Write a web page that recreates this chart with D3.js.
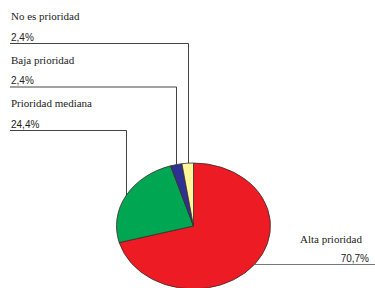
<html>
<head>
    <title>Prioridad</title>
</head>
<body style="margin:0;background:#fff">
    <script src="https://d3js.org/d3.v7.min.js"></script>
    <script>
        var categories = ["Alta prioridad", "Prioridad mediana", "Baja prioridad", "No es prioridad"];
        var values = [70.7, 24.4, 2.4, 2.4];
        var valueLabels = ["70,7%", "24,4%", "2,4%", "2,4%"];
        var colors = ["#ED1C24", "#00A651", "#2E3192", "#FFF799"];

        var width = 375, height = 288;
        var cx = 193.5, cy = 226, rx = 77, ry = 63;
        var serif = "'Liberation Serif', 'Times New Roman', Times, serif";
        var sans = "'Liberation Sans', Arial, sans-serif";
        var svg = d3.select("body").append("svg").attr("width", width).attr("height", height);

        var data = categories.map((c, i) => ({ name: c, value: values[i], label: valueLabels[i], color: colors[i] }));
        var pie = d3.pie().sort(null).value(d => d.value);
        var arcs = pie(data);
        var arc = d3.arc().innerRadius(0).outerRadius(rx);

        // point on the ellipse edge at the middle of a slice
        var edge = a => {
            var m = (a.startAngle + a.endAngle) / 2;
            return [cx + rx * Math.sin(m), cy - ry * Math.cos(m)];
        };

        // leader lines (left side labels stacked from the top)
        var leftY = { "No es prioridad": 43.5, "Baja prioridad": 87, "Prioridad mediana": 130.5 };
        var g = svg.append("g");
        arcs.forEach(a => {
            var p = edge(a);
            if (leftY[a.data.name] !== undefined) {
                var ly = leftY[a.data.name];
                g.append("polyline")
                    .attr("points", [[10, ly], [Math.round(p[0]) + 0.5, ly], [Math.round(p[0]) + 0.5, p[1]]].join(" "))
                    .attr("fill", "none").attr("stroke", "#444").attr("stroke-width", 1);
                g.append("text").text(a.data.name)
                    .attr("x", 11).attr("y", ly - 23.5)
                    .style("font-family", serif).style("font-size", "11px").attr("fill", "#222");
                g.append("text").text(a.data.label)
                    .attr("x", 11).attr("y", ly - 3)
                    .style("font-family", sans).style("font-size", "10px").attr("fill", "#222");
            } else {
                var ry2 = Math.round(p[1]) + 0.5;
                g.append("line").attr("x1", p[0]).attr("x2", width).attr("y1", ry2).attr("y2", ry2)
                    .attr("stroke", "#777").attr("stroke-width", 1.2);
                g.append("text").text(a.data.name)
                    .attr("x", 362).attr("y", ry2 - 22).attr("text-anchor", "end")
                    .style("font-family", serif).style("font-size", "11px").attr("fill", "#222");
                g.append("text").text(a.data.label)
                    .attr("x", 369).attr("y", ry2 - 3).attr("text-anchor", "end")
                    .style("font-family", sans).style("font-size", "10px").attr("fill", "#222");
            }
        });

        // the pie, squashed into an ellipse
        svg.append("g")
            .attr("transform", "translate(" + cx + "," + cy + ") scale(1," + (ry / rx) + ")")
            .selectAll("path").data(arcs).enter().append("path")
            .attr("d", arc)
            .attr("fill", d => d.data.color)
            .attr("stroke", "#3a2a2a")
            .attr("stroke-width", 0.8)
            .attr("vector-effect", "non-scaling-stroke");
    </script>
</body>
</html>
